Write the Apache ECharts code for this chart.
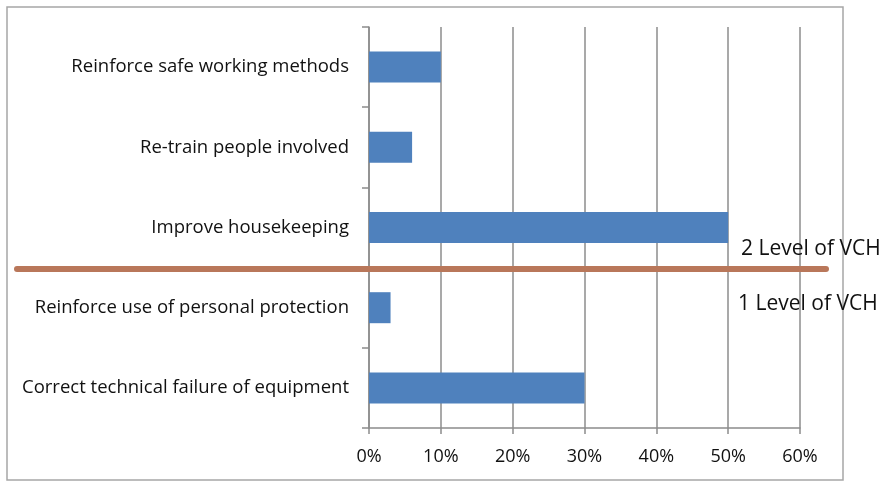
<!DOCTYPE html>
<html>
<head>
<meta charset="utf-8">
<script src="https://cdn.jsdelivr.net/npm/echarts@6/dist/echarts.min.js"></script>
<style>
  html, body { margin: 0; padding: 0; background: #fff; }
  #chart { width: 887px; height: 482px; }
</style>
</head>
<body>
<div id="chart"></div>
<script>
// Corrective actions, listed bottom to top on the category axis
const actions = [
  'Correct technical failure of equipment',
  'Reinforce use of personal protection',
  'Improve housekeeping',
  'Re-train people involved',
  'Reinforce safe working methods'
];
// Share of responses, in percent
const shares = [30, 3, 50, 6, 10];
// Value axis ticks (percent)
const pctTicks = [0, 10, 20, 30, 40, 50, 60];
// Annotation text for the split between the two VCH levels
const upperLevel = '2 Level of VCH';
const lowerLevel = '1 Level of VCH';

const FONT = '"Open Sans"';
const chart = echarts.init(document.getElementById('chart'), null, { renderer: 'canvas' });

const option = {
  animation: false,
  backgroundColor: '#ffffff',
  grid: { left: 369, top: 27, right: 87, bottom: 54, containLabel: false },
  xAxis: {
    type: 'value',
    min: pctTicks[0],
    max: pctTicks[pctTicks.length - 1],
    interval: pctTicks[1] - pctTicks[0],
    axisLine: { show: true, lineStyle: { color: '#8c8c8c', width: 1.5 } },
    axisTick: { show: true, length: 6, lineStyle: { color: '#8c8c8c', width: 1.5 } },
    splitLine: { show: true, lineStyle: { color: '#8c8c8c', width: 1.5 } },
    axisLabel: {
      formatter: '{value}%',
      color: '#111111',
      fontFamily: FONT,
      fontSize: 18,
      margin: 20
    }
  },
  yAxis: {
    type: 'category',
    data: actions,
    boundaryGap: true,
    axisLine: { show: true, lineStyle: { color: '#8c8c8c', width: 1.5 } },
    axisTick: { show: true, length: 7, lineStyle: { color: '#8c8c8c', width: 1.5 } },
    splitLine: { show: false },
    axisLabel: {
      color: '#111111',
      fontFamily: FONT,
      fontSize: 18.5,
      margin: 20,
      padding: [4, 0, 0, 0]
    }
  },
  series: [{
    type: 'bar',
    data: shares,
    barWidth: 31,
    itemStyle: { color: '#4f81bd' }
  }]
};
chart.setOption(option);

// Place the divider on the boundary between the 2nd and 3rd categories
const yLow = chart.convertToPixel({ yAxisIndex: 0 }, actions[1]);
const yHigh = chart.convertToPixel({ yAxisIndex: 0 }, actions[2]);
const splitY = Math.round((yLow + yHigh) / 2) + 1;

chart.setOption({
  graphic: [
    {
      type: 'rect',
      silent: true,
      z: -1,
      shape: { x: 7, y: 7, width: 836, height: 473 },
      style: { fill: null, stroke: '#a6a6a6', lineWidth: 1.5 }
    },
    {
      type: 'line',
      silent: true,
      z: 100,
      shape: { x1: 17, y1: splitY, x2: 826, y2: splitY },
      style: { stroke: '#b9775a', lineWidth: 6, lineCap: 'round' }
    },
    {
      type: 'text',
      silent: true,
      z: 100,
      x: 741,
      y: splitY - 20,
      style: {
        text: upperLevel,
        fill: '#111111',
        font: '21px ' + FONT,
        textVerticalAlign: 'middle'
      }
    },
    {
      type: 'text',
      silent: true,
      z: 100,
      x: 738,
      y: splitY + 35,
      style: {
        text: lowerLevel,
        fill: '#111111',
        font: '21px ' + FONT,
        textVerticalAlign: 'middle'
      }
    }
  ]
});
</script>
</body>
</html>
